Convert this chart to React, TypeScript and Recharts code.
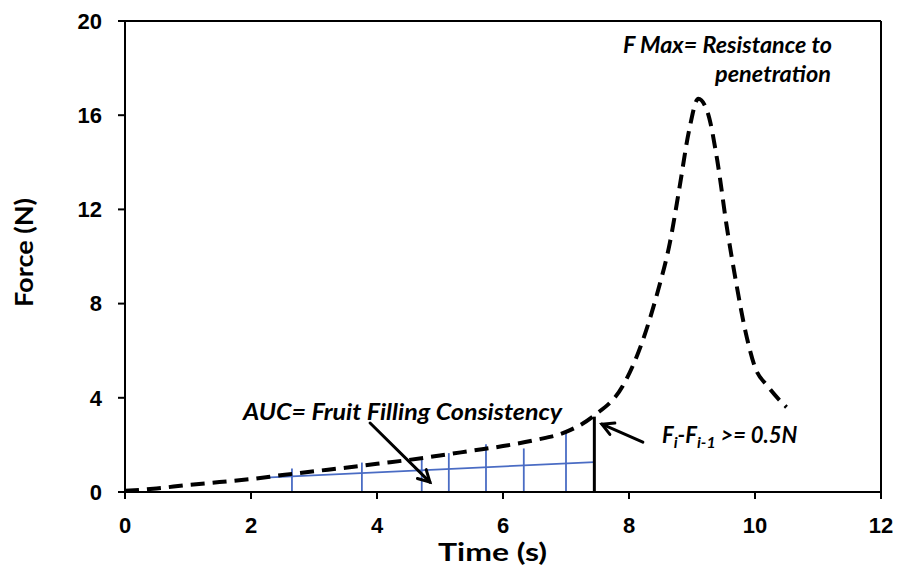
import { ComposedChart, Line, XAxis, YAxis, ReferenceLine } from 'recharts';

// penetration curve, force (N) against time (s)
const curveTime = [0, 0.5, 1, 1.5, 2, 2.5, 3, 3.5, 4, 4.5, 5, 5.5, 6, 6.5, 7, 7.45, 7.9, 8.2, 8.45, 8.65, 8.8, 8.95, 9.1, 9.25, 9.4, 9.55, 9.7, 9.85, 10.0, 10.2, 10.5];
const curveForce = [0.05, 0.15, 0.3, 0.42, 0.55, 0.72, 0.88, 1.03, 1.2, 1.36, 1.55, 1.75, 1.95, 2.2, 2.55, 3.25, 4.5, 6.3, 8.45, 10.6, 12.9, 15.3, 16.7, 16.1, 14.1, 11.3, 8.9, 6.8, 5.3, 4.5, 3.6];

// AUC strips (blue)
const stripTime = [2.65, 3.76, 4.71, 5.14, 5.73, 6.33, 7.0];
const stripTop = [1.0, 1.25, 1.45, 1.65, 2.03, 1.85, 2.55];
const baseTime = [2.14, 7.45];
const baseForce = [0.6, 1.27];

// threshold cut
const cutTime = 7.45;
const cutForce = 3.2;

// annotation arrows [from, to]
const aucArrow = [[3.89, 2.93], [4.84, 0.42]];
const cutArrow = [[8.22, 2.12], [7.57, 2.88]];

const xTicks = [0, 2, 4, 6, 8, 10, 12];
const yTicks = [0, 4, 8, 12, 16, 20];

const curve = curveTime.map((t, i) => ({ t, force: curveForce[i] }));
const base = baseTime.map((t, i) => ({ t, force: baseForce[i] }));

const BLUE = '#4a6cc4';
const tickStyle = { fill: '#000', fontSize: 22, fontWeight: 700, fontFamily: 'Liberation Sans, Arial, sans-serif' };
const noteStyle: React.CSSProperties = { fontFamily: 'Lato, sans-serif', fontWeight: 700, fontStyle: 'italic', fontSize: 22 };
const titleStyle: React.CSSProperties = { fontFamily: 'Lato, sans-serif', fontWeight: 700, fontSize: 25 };

function Arrow(props: any) {
  const { x1, y1, x2, y2 } = props;
  const a = Math.atan2(y2 - y1, x2 - x1);
  const len = 13;
  const spread = 0.5;
  const hx1 = x2 - len * Math.cos(a - spread);
  const hy1 = y2 - len * Math.sin(a - spread);
  const hx2 = x2 - len * Math.cos(a + spread);
  const hy2 = y2 - len * Math.sin(a + spread);
  return (
    <g stroke="#000" strokeWidth={3} fill="none" strokeLinecap="round">
      <line x1={x1} y1={y1} x2={x2} y2={y2} />
      <polyline points={`${hx1},${hy1} ${x2},${y2} ${hx2},${hy2}`} />
    </g>
  );
}

export default function App() {
  return (
    <div style={{ position: 'absolute', left: 0, top: 0, width: 899, height: 569, background: '#fff' }}>
      <ComposedChart width={899} height={569} margin={{ top: 21, right: 18, bottom: 17, left: 45 }}>
        <XAxis
          dataKey="t"
          type="number"
          domain={[0, 12]}
          ticks={xTicks}
          allowDataOverflow
          height={60}
          stroke="#000"
          strokeWidth={2}
          tickSize={7}
          tickMargin={18}
          tick={tickStyle}
        />
        <YAxis
          type="number"
          domain={[0, 20]}
          ticks={yTicks}
          allowDataOverflow
          width={80}
          stroke="#000"
          strokeWidth={2}
          tickSize={7}
          tickMargin={16}
          tick={tickStyle}
        />
        <ReferenceLine y={20} stroke="#000" strokeWidth={2} />
        <ReferenceLine x={12} stroke="#000" strokeWidth={2} />
        <Line
          data={base}
          dataKey="force"
          type="linear"
          stroke={BLUE}
          strokeWidth={1.8}
          dot={false}
          isAnimationActive={false}
        />
        {stripTime.map((t, i) => (
          <ReferenceLine
            key={t}
            segment={[{ x: t, y: 0 }, { x: t, y: stripTop[i] }]}
            stroke={BLUE}
            strokeWidth={1.8}
          />
        ))}
        <ReferenceLine
          segment={[{ x: cutTime, y: 0 }, { x: cutTime, y: cutForce }]}
          stroke="#000"
          strokeWidth={3}
        />
        <Line
          data={curve}
          dataKey="force"
          type="monotone"
          stroke="#000"
          strokeWidth={4}
          strokeDasharray="14 8"
          dot={false}
          isAnimationActive={false}
        />
        <ReferenceLine
          segment={[{ x: aucArrow[0][0], y: aucArrow[0][1] }, { x: aucArrow[1][0], y: aucArrow[1][1] }]}
          shape={Arrow}
        />
        <ReferenceLine
          segment={[{ x: cutArrow[0][0], y: cutArrow[0][1] }, { x: cutArrow[1][0], y: cutArrow[1][1] }]}
          shape={Arrow}
        />
      </ComposedChart>
      <svg width={899} height={569} style={{ position: 'absolute', left: 0, top: 0, pointerEvents: 'none' }}>
        <text x={33} y={307} transform="rotate(-90 33 307)" style={titleStyle} textLength={109} lengthAdjust="spacingAndGlyphs">
          Force (N)
        </text>
        <text x={438} y={561} style={titleStyle} textLength={109} lengthAdjust="spacingAndGlyphs">
          Time (s)
        </text>
        <text x={243} y={420} style={noteStyle} textLength={319} lengthAdjust="spacingAndGlyphs">
          AUC= Fruit Filling Consistency
        </text>
        <text x={623} y={53} style={noteStyle} textLength={209} lengthAdjust="spacingAndGlyphs">
          F Max= Resistance to
        </text>
        <text x={715} y={82} style={noteStyle} textLength={116} lengthAdjust="spacingAndGlyphs">
          penetration
        </text>
        <text x={662} y={443} style={noteStyle}>
          F<tspan fontSize={16} dy={5}>i</tspan>
          <tspan dy={-5}>-F</tspan>
          <tspan fontSize={16} dy={5}>i-1</tspan>
          <tspan dy={-5}> &gt;= 0.5N</tspan>
        </text>
      </svg>
    </div>
  );
}
